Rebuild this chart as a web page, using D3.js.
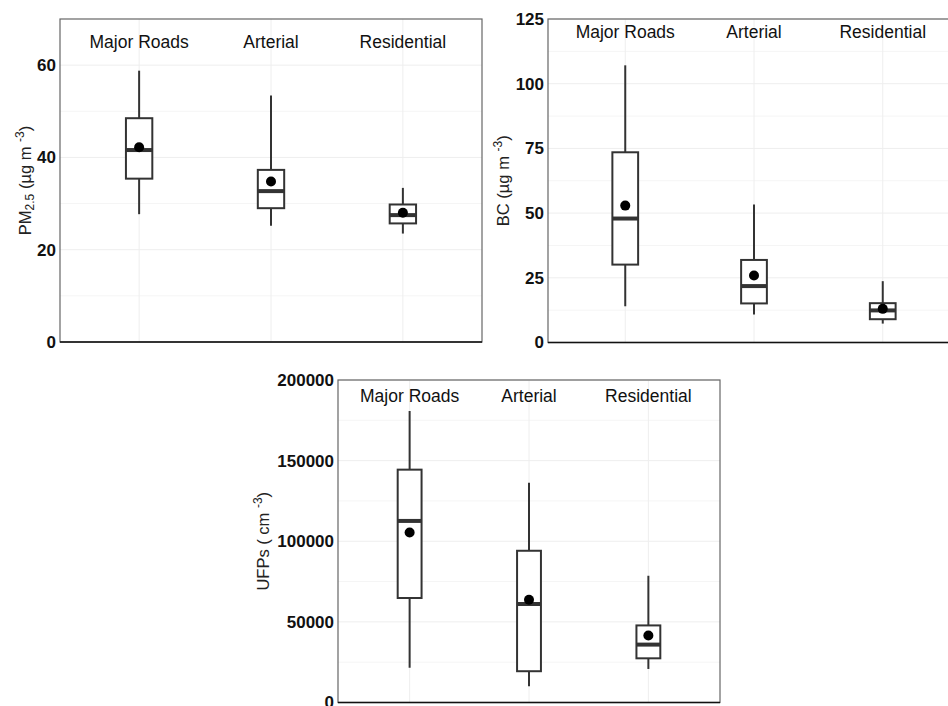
<!DOCTYPE html>
<html>
<head>
<meta charset="utf-8" />
<script src="https://d3js.org/d3.v7.min.js"></script>
<style>
  body { margin: 0; background: #fff; font-family: Arial, "Liberation Sans", sans-serif; }
  svg { display: block; }
</style>
</head>
<body>
<div id="container"></div>
<script>
  // DATA
  const categories = ["Major Roads", "Arterial", "Residential"];

  // [min, q1, median, q3, max, mean] per category
  const pm25 = [
    [27.7, 35.4, 41.6, 48.5, 58.8, 42.2],
    [25.2, 29.0, 32.7, 37.3, 53.4, 34.8],
    [23.5, 25.7, 27.5, 29.8, 33.4, 28.0]
  ];
  const bc = [
    [14.0, 30.1, 47.9, 73.5, 107.1, 52.9],
    [10.8, 15.1, 21.8, 31.9, 53.3, 25.9],
    [7.3, 9.0, 12.4, 15.2, 23.7, 13.0]
  ];
  const ufp = [
    [21500, 64800, 112600, 144400, 180700, 105400],
    [10100, 19400, 61100, 94100, 136300, 63700],
    [20800, 27400, 35900, 47800, 78600, 41500]
  ];

  const pm25Ticks = [0, 20, 40, 60];
  const bcTicks = [0, 25, 50, 75, 100, 125];
  const ufpTicks = [0, 50000, 100000, 150000, 200000];

  // PANELS
  const panels = [
    { stats: pm25, ticks: pm25Ticks, max: 70, labelY: 65,
      left: 60, top: 19, right: 482, bottom: 342, titleX: 25,
      title: [["PM", ""], ["2.5", "sub"], [" (µg m ", ""], ["-3", "sup"], [")", ""]] },
    { stats: bc, ticks: bcTicks, max: 125, labelY: 120,
      left: 548, top: 19, right: 960, bottom: 342.5, titleX: 503,
      title: [["BC (µg m ", ""], ["-3", "sup"], [")", ""]] },
    { stats: ufp, ticks: ufpTicks, max: 200000, labelY: 190000,
      left: 338, top: 380, right: 720, bottom: 702.5, titleX: 263,
      title: [["UFPs ( cm ", ""], ["-3", "sup"], [")", ""]] }
  ];

  const svg = d3.select("#container").append("svg")
    .attr("width", 948)
    .attr("height", 706);

  panels.forEach(function (p) {
    const x = d3.scalePoint()
      .domain(categories)
      .range([p.left, p.right])
      .padding(0.6);
    const y = d3.scaleLinear()
      .domain([0, p.max])
      .range([p.bottom, p.top]);

    const g = svg.append("g");
    const boxW = x.step() * 0.2;

    // grid lines (major + minor)
    const step = p.ticks[1] - p.ticks[0];
    const minor = d3.range(step / 2, p.max, step);
    g.selectAll(".minor").data(minor).enter().append("line")
      .attr("x1", p.left).attr("x2", p.right)
      .attr("y1", d => y(d)).attr("y2", d => y(d))
      .attr("stroke", "#f5f5f5").attr("stroke-width", 1);
    g.selectAll(".major").data(p.ticks).enter().append("line")
      .attr("x1", p.left).attr("x2", p.right)
      .attr("y1", d => y(d)).attr("y2", d => y(d))
      .attr("stroke", "#eeeeee").attr("stroke-width", 1);
    g.selectAll(".vgrid").data(categories).enter().append("line")
      .attr("x1", d => x(d)).attr("x2", d => x(d))
      .attr("y1", p.top).attr("y2", p.bottom)
      .attr("stroke", "#eeeeee").attr("stroke-width", 1);

    // panel border
    g.append("rect")
      .attr("x", p.left).attr("y", p.top)
      .attr("width", p.right - p.left).attr("height", p.bottom - p.top)
      .attr("fill", "none").attr("stroke", "#666").attr("stroke-width", 1.2);
    g.append("line")
      .attr("x1", p.left).attr("x2", p.right)
      .attr("y1", p.bottom).attr("y2", p.bottom)
      .attr("stroke", "#111").attr("stroke-width", 1.5);

    // y axis
    const axis = g.append("g")
      .attr("transform", "translate(" + p.left + ",0)")
      .call(d3.axisLeft(y).tickValues(p.ticks).tickSize(0).tickPadding(4).tickFormat(d3.format("d")));
    axis.select(".domain").remove();
    axis.selectAll("text")
      .attr("fill", "#111")
      .style("font-family", "Arial, 'Liberation Sans', sans-serif")
      .style("font-size", "17px")
      .style("font-weight", "bold");

    // axis title
    const t = g.append("text")
      .attr("transform", "translate(" + p.titleX + "," + (p.top + p.bottom) / 2 + ") rotate(-90)")
      .attr("text-anchor", "middle")
      .attr("dy", "0.35em")
      .attr("fill", "#222")
      .style("font-size", "16.5px");
    p.title.forEach(function (part) {
      const ts = t.append("tspan").text(part[0]);
      if (part[1] === "sub") ts.attr("baseline-shift", "-25%").style("font-size", "12px");
      if (part[1] === "sup") ts.attr("baseline-shift", "super").style("font-size", "12px");
    });

    // category labels inside the panel
    g.selectAll(".cat").data(categories).enter().append("text")
      .attr("x", d => x(d))
      .attr("y", y(p.labelY))
      .attr("dy", "0.35em")
      .attr("text-anchor", "middle")
      .attr("fill", "#111")
      .style("font-size", "17.5px")
      .text(d => d);

    // boxplots
    const boxes = g.selectAll(".box").data(p.stats).enter().append("g");
    boxes.append("line")
      .attr("x1", (d, i) => x(categories[i])).attr("x2", (d, i) => x(categories[i]))
      .attr("y1", d => y(d[0])).attr("y2", d => y(d[4]))
      .attr("stroke", "#333").attr("stroke-width", 2);
    boxes.append("rect")
      .attr("x", (d, i) => x(categories[i]) - boxW / 2)
      .attr("width", boxW)
      .attr("y", d => y(d[3]))
      .attr("height", d => y(d[1]) - y(d[3]))
      .attr("fill", "#fff").attr("stroke", "#333").attr("stroke-width", 2);
    boxes.append("line")
      .attr("x1", (d, i) => x(categories[i]) - boxW / 2)
      .attr("x2", (d, i) => x(categories[i]) + boxW / 2)
      .attr("y1", d => y(d[2])).attr("y2", d => y(d[2]))
      .attr("stroke", "#333").attr("stroke-width", 4);
    boxes.append("circle")
      .attr("cx", (d, i) => x(categories[i]))
      .attr("cy", d => y(d[5]))
      .attr("r", 5)
      .attr("fill", "#000");
  });
</script>
</body>
</html>
